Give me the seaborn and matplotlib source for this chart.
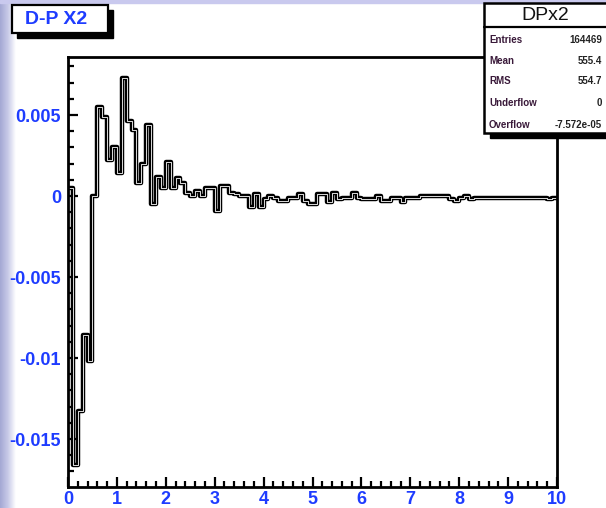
import numpy as np
import pandas as pd
import matplotlib
matplotlib.use("Agg")
import matplotlib.pyplot as plt
import matplotlib.patches as mpatches
from matplotlib.ticker import MultipleLocator, FixedLocator, FixedFormatter
import seaborn as sns

# histogram DPx2: 100 bins from 0 to 10
bin_edges = np.linspace(0, 10, 101)
bin_values = [
    0.0005, -0.0166, -0.0133, -0.0086, -0.0102, 0.0000, 0.0055, 0.0049, 0.0022, 0.0030,
    0.0014, 0.0073, 0.0046, 0.0041, 0.0008, 0.0020, 0.0044, -0.0005, 0.0012, 0.0005,
    0.0021, 0.0005, 0.0011, 0.0008, 0.0002, 0.0000, 0.0003, 0.0000, 0.0005, 0.0005,
    -0.0009, 0.0006, 0.0006, 0.0002, 0.0001, 0.0000, 0.0000, -0.0007, 0.0001, -0.0007,
    -0.0002, 0.0000, -0.0001, -0.0003, -0.0003, -0.0001, -0.0001, 0.0001, -0.0003, -0.0005,
    -0.0005, 0.0001, 0.0001, -0.0004, 0.0002, -0.0002, -0.0001, -0.0001, 0.0002, -0.0001,
    -0.0002, -0.0002, -0.0002, 0.0000, -0.0003, -0.0003, -0.0001, -0.0001, -0.0004, -0.0001,
    -0.0001, -0.0001, 0.0000, 0.0000, 0.0000, 0.0000, 0.0000, 0.0000, -0.0002, -0.0003,
    -0.0001, 0.0000, -0.0002, -0.0001, -0.0001, -0.0001, -0.0001, -0.0001, -0.0001, -0.0001,
    -0.0001, -0.0001, -0.0001, -0.0001, -0.0001, -0.0001, -0.0001, -0.0001, -0.0002, -0.0001,
]

y_ticks = [0.005, 0.0, -0.005, -0.01, -0.015]
y_tick_labels = ["0.005", "0", "-0.005", "-0.01", "-0.015"]
x_ticks = list(range(0, 11))

stat_names = ["Entries", "Mean", "RMS", "Underflow", "Overflow"]
stat_values = ["164469", "555.4", "554.7", "0", "-7.572e-05"]

sns.set_style("white")
plt.rcParams['font.family'] = ['Liberation Sans', 'DejaVu Sans']

W, H = 606, 508
fig = plt.figure(figsize=(W / 100, H / 100), dpi=100)
fig.patch.set_facecolor("white")

def fx(px):
    return px / W

def fy(py):
    return 1 - py / H

# slide background strips (left gradient, top band)
bg = fig.add_axes([0, 0, fx(16), 1])
grad = np.linspace(0, 1, 40)[None, :]
bg.imshow(grad, aspect="auto", cmap=matplotlib.colors.LinearSegmentedColormap.from_list(
    "slide", ["#a4a8d4", "#c8cae8", "#ffffff"]), extent=[0, 1, 0, 1])
bg.axis("off")
fig.patches.append(mpatches.Rectangle((0, fy(3)), 1, 3 / H, transform=fig.transFigure,
                                      color="#c9c9ee", zorder=0))

blue = "#1e3cff"
ax = fig.add_axes([fx(68), fy(487), fx(557) - fx(68), (487 - 57) / H])
ax.set_facecolor("white")

# step outline: one point per bin edge, last bin repeated at the right edge
hist_df = pd.DataFrame({"x": bin_edges, "y": bin_values + [bin_values[-1]]})

# thick black outline with thin white core (ROOT-like rendering)
sns.lineplot(data=hist_df, x="x", y="y", drawstyle="steps-post", color="black",
             linewidth=3.2, estimator=None, sort=False, ax=ax)
sns.lineplot(data=hist_df, x="x", y="y", drawstyle="steps-post", color="white",
             linewidth=0.6, estimator=None, sort=False, ax=ax)

ax.set_xlim(0, 10)
ax.set_ylim(-0.01796, 0.00858)
ax.set_xlabel("")
ax.set_ylabel("")

ax.xaxis.set_major_locator(FixedLocator(x_ticks))
ax.xaxis.set_minor_locator(MultipleLocator(0.2))
ax.yaxis.set_major_locator(FixedLocator(y_ticks))
ax.yaxis.set_major_formatter(FixedFormatter(y_tick_labels))
ax.yaxis.set_minor_locator(MultipleLocator(0.001))

ax.tick_params(which="both", direction="in", top=False, right=False,
               bottom=True, left=True, color="black", width=1.6)
ax.tick_params(which="major", length=7.5)
ax.tick_params(which="minor", length=4)
ax.tick_params(axis="x", which="major", pad=3, labelsize=13, labelcolor=blue)
ax.tick_params(axis="y", which="major", pad=5, labelsize=13, labelcolor=blue)
for lab in ax.get_xticklabels() + ax.get_yticklabels():
    lab.set_fontweight("bold")

for sp in ax.spines.values():
    sp.set_visible(True)
    sp.set_color("black")
    sp.set_linewidth(2.0)

# title box "D-P X2" with shadow
fig.patches.append(mpatches.Rectangle((fx(17), fy(38)), fx(108) - fx(12), (33 - 5) / H,
                                      transform=fig.transFigure, color="black", zorder=2))
fig.patches.append(mpatches.Rectangle((fx(12), fy(33)), fx(108) - fx(12), (33 - 5) / H,
                                      transform=fig.transFigure, facecolor="white",
                                      edgecolor="black", linewidth=1.6, zorder=3))
fig.text(fx(25), fy(19.5), "D-P X2", color=blue, fontsize=14, fontweight="bold",
         ha="left", va="center", zorder=4)

# stats box
fig.patches.append(mpatches.Rectangle((fx(490), fy(138)), fx(620) - fx(490), (133 - 5) / H,
                                      transform=fig.transFigure, color="black", zorder=2))
fig.patches.append(mpatches.Rectangle((fx(484), fy(133)), fx(620) - fx(484), (133 - 3) / H,
                                      transform=fig.transFigure, facecolor="white",
                                      edgecolor="black", linewidth=1.8, zorder=3))
fig.lines.append(matplotlib.lines.Line2D([fx(484), fx(606)], [fy(27), fy(27)],
                                         transform=fig.transFigure, color="black",
                                         linewidth=1.6, zorder=4))
fig.text(fx(545), fy(15), "DPx2", color="#111111", fontsize=14, ha="center",
         va="center", zorder=5)
row_y = [40, 61, 81, 103, 125]
for name, val, ry in zip(stat_names, stat_values, row_y):
    fig.text(fx(489), fy(ry), name, color="#3a1a3a", fontsize=7, fontweight="bold",
             ha="left", va="center", zorder=5)
    fig.text(fx(602), fy(ry), val, color="#222222", fontsize=7, fontweight="bold",
             ha="right", va="center", zorder=5)

fig.savefig("out.png", dpi=100)
